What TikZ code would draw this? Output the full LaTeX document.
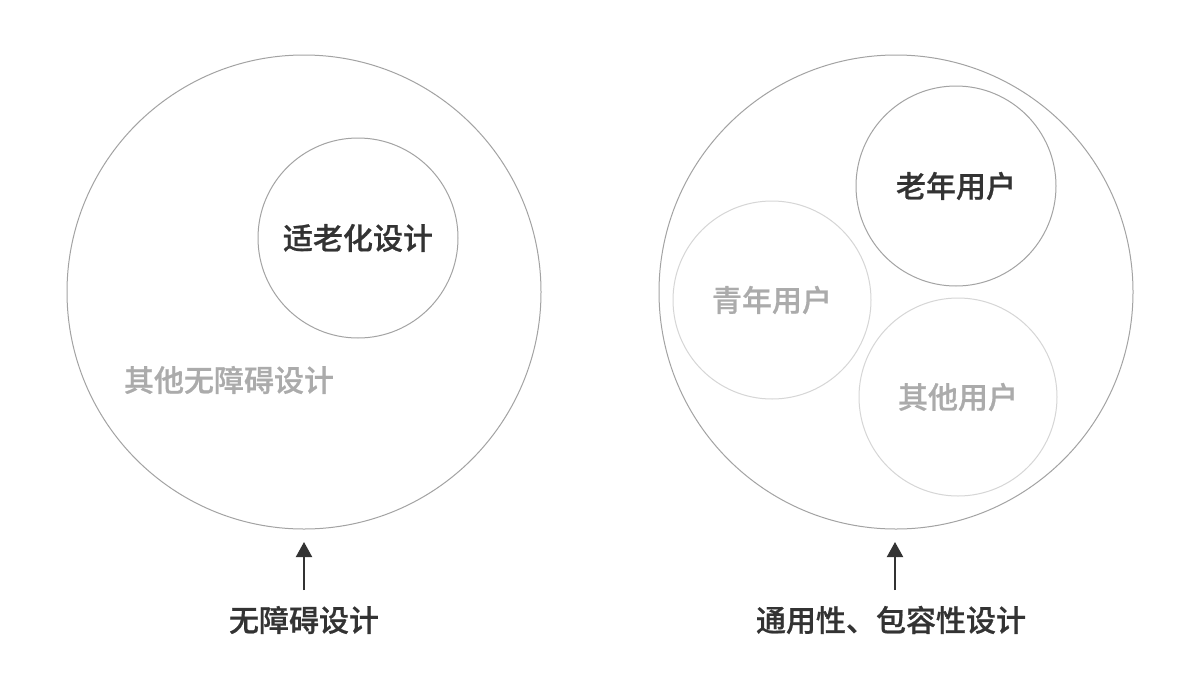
\documentclass[tikz,border=0pt]{standalone}
\usepackage{fontspec}
\setmainfont{Noto Sans CJK SC}[BoldFont={Noto Sans CJK SC Medium},BoldFeatures={FakeBold=0.7}]
\usetikzlibrary{arrows.meta}
\definecolor{Ink}{HTML}{333333}
\definecolor{Faint}{HTML}{ABABAB}
\definecolor{Rim}{HTML}{A3A3A3}
\definecolor{RimSoft}{HTML}{D6D6D6}
\tikzset{
  ring/.style={circle,draw=Rim,line width=0.5pt,inner sep=0pt,minimum size=#1},
  softring/.style={ring=#1,draw=RimSoft},
  tag/.style={font=\fontsize{15pt}{18pt}\selectfont\bfseries,text=Ink,inner sep=0pt},
  fainttag/.style={tag,text=Faint},
  up/.style={-{Triangle[length=7.5pt,width=8pt]},line width=1pt,draw=Ink}
}

\begin{document}
\begin{tikzpicture}[x=0.5pt,y=-0.5pt]
\fill[white] (0,0) rectangle (1200,691);
\useasboundingbox (0,0) rectangle (1200,691);
% left: accessibility
\node[ring=237pt] (outerL) at (304,292) {};
\node[ring=100pt] (aging) at (358,238) {};
\node[tag] (agingT) at (aging) {适老化设计};
\node[fainttag] (otherA) at (229,380) {其他无障碍设计};
\coordinate (tailL) at (304,590);
\coordinate (tipL) at (304,542);
\draw[up] (tailL) -- (tipL);
\node[tag] (labL) at (304,620) {无障碍设计};
% right: universal / inclusive
\node[ring=237pt] (outerR) at (896,292) {};
\node[ring=100pt] (elder) at (956,186) {};
\node[softring=99pt] (young) at (772,300) {};
\node[softring=99pt] (rest) at (958,397) {};
\node[tag] (elderT) at (elder) {老年用户};
\node[fainttag] (youngT) at (young) {青年用户};
\node[fainttag] (restT) at (rest) {其他用户};
\coordinate (tailR) at (895,590);
\coordinate (tipR) at (895,542);
\draw[up] (tailR) -- (tipR);
\node[tag] (labR) at (891,620) {通用性、包容性设计};
\end{tikzpicture}
\end{document}
